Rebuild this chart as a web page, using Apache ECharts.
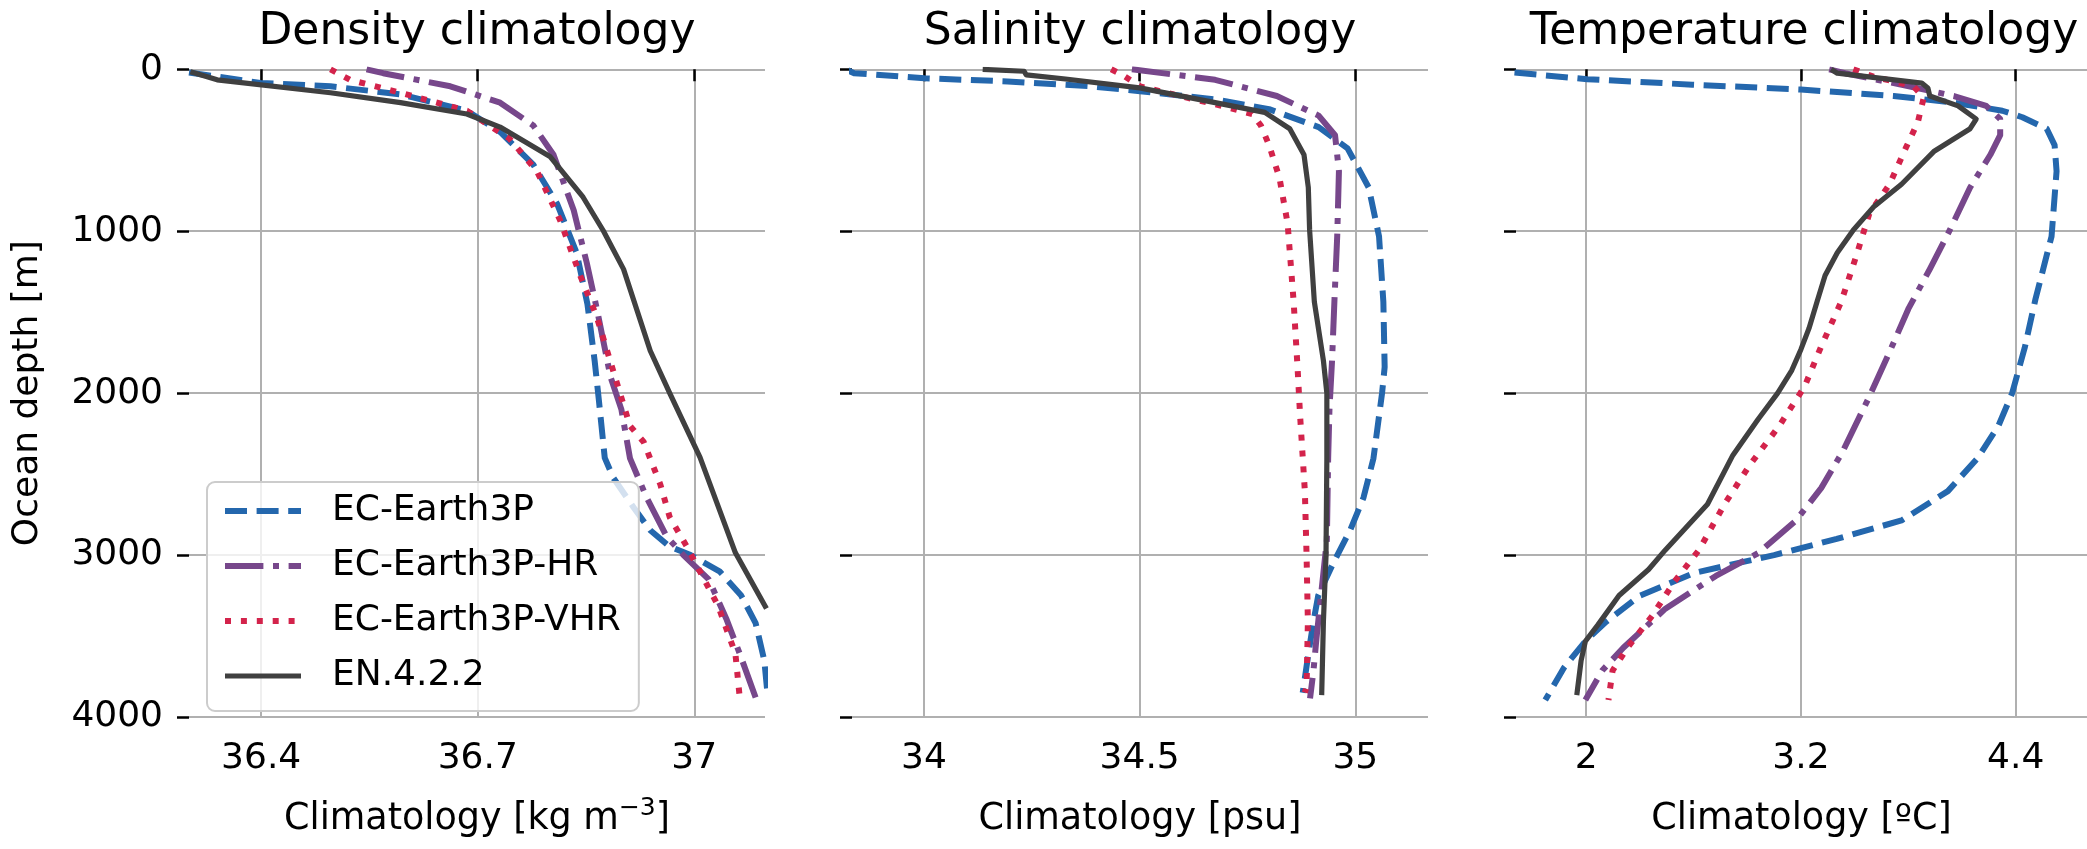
<!DOCTYPE html>
<html>
<head>
<meta charset="utf-8">
<script src="https://cdn.jsdelivr.net/npm/echarts@6.0.0/dist/echarts.min.js"></script>
<style>
html,body{margin:0;padding:0;background:#fff;}
#chart{width:2087px;height:849px;}
</style>
</head>
<body>
<div id="chart"></div>
<script>
// ---------- data ----------
const seriesNames = ['EC-Earth3P', 'EC-Earth3P-HR', 'EC-Earth3P-VHR', 'EN.4.2.2'];
const panelTitles = ['Density climatology', 'Salinity climatology', 'Temperature climatology'];
const depthTicks = [0, 1000, 2000, 3000, 4000];
const densTicks = [36.4, 36.7, 37];
const salTicks = [34, 34.5, 35];
const tempTicks = [2, 3.2, 4.4];

// [value, depth]
const densEC = [[36.300,20],[36.399,84],[36.496,105],[36.593,155],[36.685,256],[36.731,387],[36.777,589],[36.810,831],[36.837,1133],[36.852,1450],[36.862,1800],[36.868,2050],[36.876,2400],[36.888,2524],[36.916,2706],[36.939,2847],[36.966,2948],[36.995,3000],[37.035,3100],[37.065,3250],[37.085,3420],[37.097,3650],[37.102,3880]];
const densHR = [[36.546,0],[36.569,24],[36.662,105],[36.731,206],[36.777,347],[36.805,528],[36.833,871],[36.851,1194],[36.866,1500],[36.884,1900],[36.899,2100],[36.911,2403],[36.934,2645],[36.962,2887],[36.985,3000],[37.020,3150],[37.045,3400],[37.063,3609],[37.085,3880]];
const densVHR = [[36.496,0],[36.523,65],[36.593,145],[36.685,256],[36.744,428],[36.782,629],[36.814,931],[36.842,1274],[36.865,1530],[36.893,1940],[36.911,2202],[36.930,2302],[36.953,2564],[36.966,2766],[36.990,2950],[37.033,3313],[37.057,3609],[37.063,3880]];
const densEN = [[36.302,15],[36.339,65],[36.496,145],[36.593,206],[36.685,276],[36.731,357],[36.800,538],[36.846,790],[36.874,997],[36.902,1234],[36.939,1738],[36.966,2000],[37.008,2397],[37.057,2986],[37.100,3330]];

const salEC = [[33.818,0],[33.838,24],[34.001,55],[34.194,75],[34.386,105],[34.501,135],[34.675,186],[34.800,246],[34.915,357],[34.982,488],[35.031,730],[35.055,1032],[35.065,1436],[35.068,1839],[35.062,2000],[35.042,2403],[35.019,2645],[34.988,2847],[34.949,3048],[34.914,3250],[34.903,3411],[34.891,3613],[34.878,3850]];
const salHR = [[34.482,0],[34.675,65],[34.818,165],[34.915,286],[34.953,407],[34.962,629],[34.958,1032],[34.952,1400],[34.946,1800],[34.940,2100],[34.937,2403],[34.934,2907],[34.922,3210],[34.910,3512],[34.903,3713],[34.895,3885]];
const salVHR = [[34.434,0],[34.460,35],[34.501,105],[34.578,155],[34.675,216],[34.761,276],[34.781,347],[34.800,468],[34.824,669],[34.843,952],[34.857,1436],[34.866,1839],[34.872,2141],[34.883,2605],[34.887,3008],[34.890,3411],[34.887,3814],[34.883,3850]];
const salEN = [[34.136,0],[34.232,12],[34.237,34],[34.328,60],[34.500,115],[34.675,206],[34.790,266],[34.848,367],[34.881,528],[34.891,730],[34.894,992],[34.905,1436],[34.926,1799],[34.934,2000],[34.934,2403],[34.932,3008],[34.926,3411],[34.922,3865]];

const tempEC = [[1.600,20],[2.007,61],[2.593,95],[3.200,125],[3.718,165],[4.055,206],[4.325,256],[4.437,296],[4.573,367],[4.617,468],[4.628,629],[4.600,1032],[4.510,1420],[4.450,1720],[4.380,2000],[4.303,2202],[4.186,2403],[4.021,2605],[3.762,2786],[3.400,2900],[3.050,3000],[2.608,3109],[2.302,3250],[2.113,3411],[1.996,3532],[1.878,3693],[1.772,3895]];
const tempHR = [[3.358,0],[3.447,24],[3.718,85],[4.055,165],[4.235,226],[4.313,307],[4.313,407],[4.258,528],[4.145,730],[4.032,992],[3.920,1234],[3.800,1480],[3.690,1758],[3.574,2040],[3.432,2363],[3.314,2585],[3.173,2786],[2.961,2988],[2.725,3129],[2.443,3331],[2.208,3572],[2.090,3713],[1.996,3895]];
const tempVHR = [[3.493,0],[3.605,45],[3.830,105],[3.886,175],[3.853,327],[3.785,488],[3.695,710],[3.582,891],[3.515,1133],[3.425,1436],[3.310,1720],[3.220,1960],[3.079,2202],[2.914,2444],[2.773,2686],[2.631,2968],[2.490,3169],[2.372,3371],[2.231,3572],[2.148,3713],[2.125,3895]];
const tempEN = [[3.369,0],[3.403,24],[3.875,85],[3.909,115],[3.920,165],[4.078,226],[4.179,307],[4.145,367],[3.942,508],[3.762,710],[3.605,851],[3.493,992],[3.403,1133],[3.335,1274],[3.290,1436],[3.245,1600],[3.200,1730],[3.149,1859],[3.070,2000],[2.961,2161],[2.820,2383],[2.678,2686],[2.443,2968],[2.349,3089],[2.184,3250],[2.066,3431],[1.996,3532],[1.972,3653],[1.948,3865]];

// ---------- styling ----------
const FONT = 'DejaVu Sans';
const colors = ['#2467ad', '#77478b', '#d3234b', '#404040'];
const LW = 6;
const dashes = [[22, 9.6], [38.4, 9.6, 6, 9.6], [6, 9.9], 'solid'];
const widths = [LW, LW, LW, 5.2];

const panelData = [
  [densEC, densHR, densVHR, densEN],
  [salEC, salHR, salVHR, salEN],
  [tempEC, tempHR, tempVHR, tempEN]
];
const xRanges = [[36.3, 37.098], [33.833, 35.1685], [1.6085, 4.798]];
const xTicks = [densTicks, salTicks, tempTicks];
const xNames = ['Climatology [kg m{sup|−3}]', 'Climatology [psu]', 'Climatology [ºC]'];
const gridLefts = [189, 852, 1516];
const GW = 576, GTOP = 69.3, GH = 661.4;

const grids = [], xAxes = [], yAxes = [], series = [], titles = [];
for (let p = 0; p < 3; p++) {
  grids.push({left: gridLefts[p], top: GTOP, width: GW, height: GH, containLabel: false});
  titles.push({
    text: panelTitles[p], left: gridLefts[p] + GW / 2, top: 11, textAlign: 'center', padding: 0,
    textStyle: {fontFamily: FONT, fontSize: 44, fontWeight: 'normal', color: '#000'}
  });
  xAxes.push({
    type: 'value', gridIndex: p, min: xRanges[p][0], max: xRanges[p][1],
    axisLine: {show: false},
    axisTick: {show: true, length: 12, customValues: xTicks[p], lineStyle: {color: '#000', width: 2.5}},
    axisLabel: {show: true, customValues: xTicks[p], fontFamily: FONT, fontSize: 36, color: '#000', margin: 24},
    splitLine: {show: true, lineStyle: {color: '#b0b0b0', width: 2}},
    name: xNames[p], nameLocation: 'middle', nameGap: 79,
    nameTextStyle: {fontFamily: FONT, fontSize: 36.5, color: '#000', lineHeight: 48,
      rich: {sup: {fontFamily: FONT, fontSize: 25, color: '#000', verticalAlign: 'top', lineHeight: 30}}}
  });
  yAxes.push({
    type: 'value', gridIndex: p, inverse: true, min: depthTicks[0], max: depthTicks[depthTicks.length - 1], interval: 1000,
    axisLine: {show: false},
    axisTick: {show: true, length: 12, lineStyle: {color: '#000', width: 2.5}},
    axisLabel: {show: p === 0, fontFamily: FONT, fontSize: 36, color: '#000', margin: 26,
      formatter: function (v) { return String(v); }},
    splitLine: {show: true, lineStyle: {color: '#b0b0b0', width: 2}},
    name: p === 0 ? 'Ocean depth [m]' : '', nameLocation: 'middle', nameGap: 143, nameRotate: 90,
    nameTextStyle: {fontFamily: FONT, fontSize: 36, color: '#000'}
  });
  for (let s = 0; s < 4; s++) {
    series.push({
      name: seriesNames[s], type: 'line', xAxisIndex: p, yAxisIndex: p,
      data: panelData[p][s], symbol: 'none', showSymbol: false, clip: true, z: 2 + s,
      lineStyle: {color: colors[s], width: widths[s], type: dashes[s], cap: 'butt', join: 'round'},
      itemStyle: {color: colors[s]},
      emphasis: {disabled: true}
    });
  }
}

const legendData = seriesNames.map(function (n, s) {
  return {
    name: n,
    itemStyle: {opacity: 0, color: 'rgba(0,0,0,0)', borderWidth: 0},
    lineStyle: {color: colors[s], width: widths[s], type: dashes[s], cap: 'butt', opacity: 1}
  };
});

const chart = echarts.init(document.getElementById('chart'), null, {renderer: 'canvas'});
chart.setOption({
  backgroundColor: '#ffffff',
  animation: false,
  title: titles,
  grid: grids,
  xAxis: xAxes,
  yAxis: yAxes,
  legend: {
    data: legendData, orient: 'vertical', left: 207, top: 482,
    itemWidth: 76, itemHeight: 14, itemGap: 15,
    padding: [9, 18, 15, 15],
    backgroundColor: 'rgba(255,255,255,0.8)', borderColor: '#cccccc', borderWidth: 2, borderRadius: 8,
    textStyle: {fontFamily: FONT, fontSize: 36, color: '#000', lineHeight: 40, padding: [0, 0, 0, 26]},
    selectedMode: false
  },
  series: series
});
</script>
</body>
</html>
